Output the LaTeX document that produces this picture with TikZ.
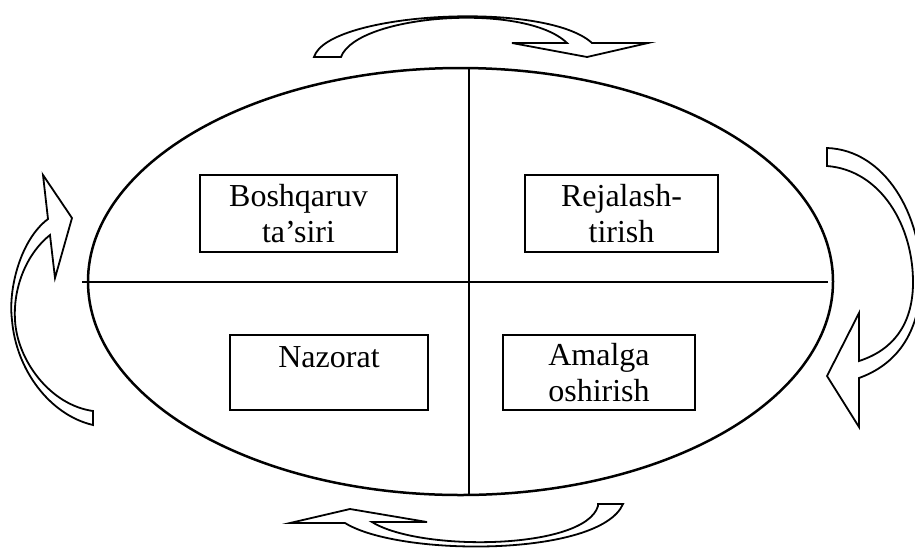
\documentclass[tikz,border=0pt]{standalone}
\usepackage{fontspec}
\setmainfont{Liberation Serif}
\usetikzlibrary{shapes.geometric}
\begin{document}
\begin{tikzpicture}[x=1pt,y=-1pt,
  txt/.style={font=\fontsize{32}{35.5}\selectfont, align=center},
  boxnode/.style={draw, line width=2.6pt, rectangle, inner sep=0pt, txt},
  bigline/.style={line width=2.4pt},
  curvedarrow/.style={draw, line width=1.8pt, fill=white, line join=miter}]
\useasboundingbox (0,0) rectangle (915,547);
\clip (0,0) rectangle (915,547);
% ellipse
\node[ellipse, draw, line width=2.5pt, minimum width=745pt, minimum height=427pt, inner sep=0pt] (ell) at (460.5,281.5) {};
% cross lines
\coordinate (vtop) at (469,68);
\coordinate (vbot) at (469,495);
\coordinate (hleft) at (82,282);
\coordinate (hright) at (828,282);
\draw[bigline] (vtop) -- (vbot);
\draw[bigline] (hleft) -- (hright);
% boxes
\node[boxnode, minimum width=197pt, minimum height=77pt] (b1) at (298.5,213.5) {Boshqaruv\\ta’siri};
\node[boxnode, minimum width=193pt, minimum height=77pt] (b2) at (621.5,213.5) {Rejalash-\\tirish};
\node[boxnode, minimum width=198pt, minimum height=75pt, text height=22pt, text depth=32pt] (b3) at (329,372.5) {Nazorat};
\node[boxnode, minimum width=192pt, minimum height=75pt] (b4) at (599,372.5) {Amalga\\oshirish};
% top arrow
\draw[curvedarrow] (314,57) .. controls (328,12) and (545,0) .. (592,43)
  -- (648,43) -- (587,57) -- (512,43) -- (567,43)
  .. controls (525,2) and (357,14) .. (341,57) -- cycle;
% right arrow
\draw[curvedarrow] (827,148) .. controls (885,150) and (922,215) .. (921,280)
  .. controls (920,335) and (895,365) .. (859,378)
  -- (859,427) -- (827,376) -- (859,313) -- (859,361)
  .. controls (893,350) and (912,325) .. (913,285)
  .. controls (914,225) and (880,170) .. (827,166) -- cycle;
% bottom arrow
\draw[curvedarrow] (623,504) .. controls (600,557) and (400,557) .. (345,523)
  -- (290,523) -- (350,509) -- (427,522) -- (372,522)
  .. controls (420,552) and (585,550) .. (598,506) -- (598,504) -- cycle;
% left arrow
\draw[curvedarrow] (93,425) .. controls (50,415) and (16,370) .. (12,320)
  .. controls (8,290) and (20,240) .. (48,219)
  -- (43,175) -- (72,218) -- (55,278) -- (50,235)
  .. controls (25,255) and (13,290) .. (15,320)
  .. controls (17,360) and (50,405) .. (93,411) -- cycle;
\end{tikzpicture}
\end{document}
